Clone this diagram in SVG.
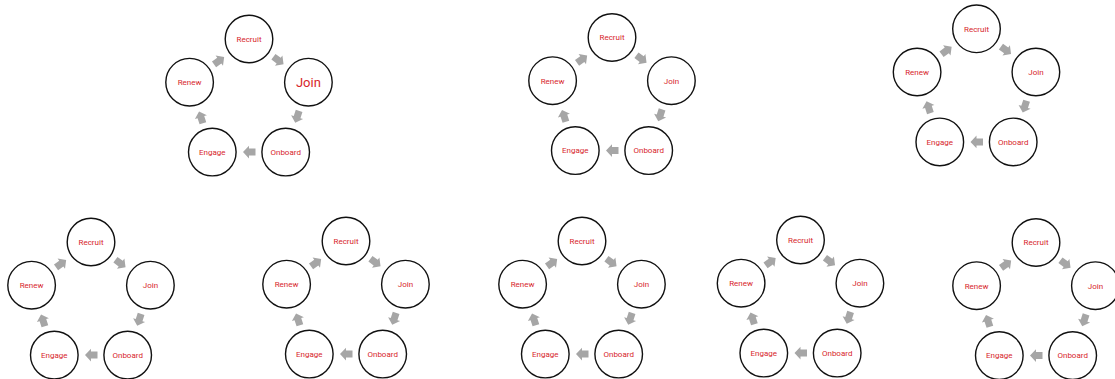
<svg xmlns="http://www.w3.org/2000/svg" xmlns:xlink="http://www.w3.org/1999/xlink" width="1115" height="379" viewBox="0 0 1115 379">
<style>
.n circle{fill:#fff;stroke:#111;stroke-width:1.4}
.n text{font-family:Roboto,"Liberation Sans",sans-serif;font-size:8px;fill:#d7262b;text-anchor:middle}
.n text.big{font-size:13px}
.arr{fill:#a6a6a6}
</style>
<defs>
<path id="ba" class="arr" d="M-6.5,-3.5 L0,-3.5 L0,-6.3 L6,0 L0,6.3 L0,3.5 L-6.5,3.5 Z"/>
<g id="cyc">
<use xlink:href="#ba" transform="translate(29.7,-40.9) rotate(36)"/>
<use xlink:href="#ba" transform="translate(48.1,15.6) rotate(108)"/>
<use xlink:href="#ba" transform="translate(0,50.6) rotate(180)"/>
<use xlink:href="#ba" transform="translate(-48.1,15.6) rotate(252)"/>
<use xlink:href="#ba" transform="translate(-29.7,-40.9) rotate(324)"/>
</g>
</defs>
<rect width="1115" height="379" fill="#fff"/>

<g id="connectors">
<use xlink:href="#cyc" transform="translate(249,101.5)"/>
<use xlink:href="#cyc" transform="translate(612,100)"/>
<use xlink:href="#cyc" transform="translate(976.5,91.3)"/>
<use xlink:href="#cyc" transform="translate(91,304.5)"/>
<use xlink:href="#cyc" transform="translate(346,303.5)"/>
<use xlink:href="#cyc" transform="translate(582,303.5)"/>
<use xlink:href="#cyc" transform="translate(800.5,302.5)"/>
<use xlink:href="#cyc" transform="translate(1036,305)"/>
</g>

<g id="d1" transform="translate(249,101.5)">
<g id="d1-recruit" class="n"><circle cx="0" cy="-62.5" r="23.8"/><text x="0" y="-59.7">Recruit</text></g>
<g id="d1-join" class="n"><circle cx="59.4" cy="-19.3" r="23.8"/><text class="big" x="59.4" y="-14.7">Join</text></g>
<g id="d1-onboard" class="n"><circle cx="36.7" cy="50.6" r="23.8"/><text x="36.7" y="53.4">Onboard</text></g>
<g id="d1-engage" class="n"><circle cx="-36.7" cy="50.6" r="23.8"/><text x="-36.7" y="53.4">Engage</text></g>
<g id="d1-renew" class="n"><circle cx="-59.4" cy="-19.3" r="23.8"/><text x="-59.4" y="-16.5">Renew</text></g>
</g>

<g id="d2" transform="translate(612,100)">
<g id="d2-recruit" class="n"><circle cx="0" cy="-62.5" r="23.8"/><text x="0" y="-59.7">Recruit</text></g>
<g id="d2-join" class="n"><circle cx="59.4" cy="-19.3" r="23.8"/><text x="59.4" y="-16.5">Join</text></g>
<g id="d2-onboard" class="n"><circle cx="36.7" cy="50.6" r="23.8"/><text x="36.7" y="53.4">Onboard</text></g>
<g id="d2-engage" class="n"><circle cx="-36.7" cy="50.6" r="23.8"/><text x="-36.7" y="53.4">Engage</text></g>
<g id="d2-renew" class="n"><circle cx="-59.4" cy="-19.3" r="23.8"/><text x="-59.4" y="-16.5">Renew</text></g>
</g>

<g id="d3" transform="translate(976.5,91.3)">
<g id="d3-recruit" class="n"><circle cx="0" cy="-62.5" r="23.8"/><text x="0" y="-59.7">Recruit</text></g>
<g id="d3-join" class="n"><circle cx="59.4" cy="-19.3" r="23.8"/><text x="59.4" y="-16.5">Join</text></g>
<g id="d3-onboard" class="n"><circle cx="36.7" cy="50.6" r="23.8"/><text x="36.7" y="53.4">Onboard</text></g>
<g id="d3-engage" class="n"><circle cx="-36.7" cy="50.6" r="23.8"/><text x="-36.7" y="53.4">Engage</text></g>
<g id="d3-renew" class="n"><circle cx="-59.4" cy="-19.3" r="23.8"/><text x="-59.4" y="-16.5">Renew</text></g>
</g>

<g id="d4" transform="translate(91,304.5)">
<g id="d4-recruit" class="n"><circle cx="0" cy="-62.5" r="23.8"/><text x="0" y="-59.7">Recruit</text></g>
<g id="d4-join" class="n"><circle cx="59.4" cy="-19.3" r="23.8"/><text x="59.4" y="-16.5">Join</text></g>
<g id="d4-onboard" class="n"><circle cx="36.7" cy="50.6" r="23.8"/><text x="36.7" y="53.4">Onboard</text></g>
<g id="d4-engage" class="n"><circle cx="-36.7" cy="50.6" r="23.8"/><text x="-36.7" y="53.4">Engage</text></g>
<g id="d4-renew" class="n"><circle cx="-59.4" cy="-19.3" r="23.8"/><text x="-59.4" y="-16.5">Renew</text></g>
</g>

<g id="d5" transform="translate(346,303.5)">
<g id="d5-recruit" class="n"><circle cx="0" cy="-62.5" r="23.8"/><text x="0" y="-59.7">Recruit</text></g>
<g id="d5-join" class="n"><circle cx="59.4" cy="-19.3" r="23.8"/><text x="59.4" y="-16.5">Join</text></g>
<g id="d5-onboard" class="n"><circle cx="36.7" cy="50.6" r="23.8"/><text x="36.7" y="53.4">Onboard</text></g>
<g id="d5-engage" class="n"><circle cx="-36.7" cy="50.6" r="23.8"/><text x="-36.7" y="53.4">Engage</text></g>
<g id="d5-renew" class="n"><circle cx="-59.4" cy="-19.3" r="23.8"/><text x="-59.4" y="-16.5">Renew</text></g>
</g>

<g id="d6" transform="translate(582,303.5)">
<g id="d6-recruit" class="n"><circle cx="0" cy="-62.5" r="23.8"/><text x="0" y="-59.7">Recruit</text></g>
<g id="d6-join" class="n"><circle cx="59.4" cy="-19.3" r="23.8"/><text x="59.4" y="-16.5">Join</text></g>
<g id="d6-onboard" class="n"><circle cx="36.7" cy="50.6" r="23.8"/><text x="36.7" y="53.4">Onboard</text></g>
<g id="d6-engage" class="n"><circle cx="-36.7" cy="50.6" r="23.8"/><text x="-36.7" y="53.4">Engage</text></g>
<g id="d6-renew" class="n"><circle cx="-59.4" cy="-19.3" r="23.8"/><text x="-59.4" y="-16.5">Renew</text></g>
</g>

<g id="d7" transform="translate(800.5,302.5)">
<g id="d7-recruit" class="n"><circle cx="0" cy="-62.5" r="23.8"/><text x="0" y="-59.7">Recruit</text></g>
<g id="d7-join" class="n"><circle cx="59.4" cy="-19.3" r="23.8"/><text x="59.4" y="-16.5">Join</text></g>
<g id="d7-onboard" class="n"><circle cx="36.7" cy="50.6" r="23.8"/><text x="36.7" y="53.4">Onboard</text></g>
<g id="d7-engage" class="n"><circle cx="-36.7" cy="50.6" r="23.8"/><text x="-36.7" y="53.4">Engage</text></g>
<g id="d7-renew" class="n"><circle cx="-59.4" cy="-19.3" r="23.8"/><text x="-59.4" y="-16.5">Renew</text></g>
</g>

<g id="d8" transform="translate(1036,305)">
<g id="d8-recruit" class="n"><circle cx="0" cy="-62.5" r="23.8"/><text x="0" y="-59.7">Recruit</text></g>
<g id="d8-join" class="n"><circle cx="59.4" cy="-19.3" r="23.8"/><text x="59.4" y="-16.5">Join</text></g>
<g id="d8-onboard" class="n"><circle cx="36.7" cy="50.6" r="23.8"/><text x="36.7" y="53.4">Onboard</text></g>
<g id="d8-engage" class="n"><circle cx="-36.7" cy="50.6" r="23.8"/><text x="-36.7" y="53.4">Engage</text></g>
<g id="d8-renew" class="n"><circle cx="-59.4" cy="-19.3" r="23.8"/><text x="-59.4" y="-16.5">Renew</text></g>
</g>
</svg>
